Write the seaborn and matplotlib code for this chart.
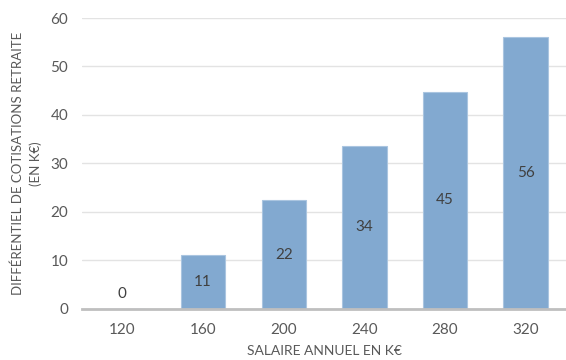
import matplotlib
matplotlib.use("Agg")
import matplotlib.pyplot as plt
import seaborn as sns
import pandas as pd

# Annual salary (k€) and the resulting pension contribution differential (k€)
salaires = ["120", "160", "200", "240", "280", "320"]
differentiel = [0, 11.2, 22.4, 33.6, 44.8, 56.0]
y_ticks = [0, 10, 20, 30, 40, 50, 60]

sns.set_theme(style="white")
plt.rcParams["font.family"] = ["Lato", "DejaVu Sans"]

text_color = "#595959"
bar_color = "#82a9d0"

df = pd.DataFrame({"salaire": salaires, "diff": differentiel})

fig = plt.figure(figsize=(5.66, 3.60), dpi=100)
ax = fig.add_axes([0.145, 0.142, 0.855, 0.808])

sns.barplot(data=df, x="salaire", y="diff", color=bar_color, saturation=1,
            width=0.55, edgecolor="#aac5e0", linewidth=0.8, ax=ax, zorder=3)

ax.set_ylim(0, 60)
ax.set_xlim(-0.5, 5.5)
ax.set_yticks(y_ticks)
ax.yaxis.grid(True, color="#e3e3e3", linewidth=1, zorder=0)
ax.xaxis.grid(False)

for side in ["top", "right", "left"]:
    ax.spines[side].set_visible(False)
ax.spines["bottom"].set_color("#bfbfbf")
ax.spines["bottom"].set_linewidth(2)
ax.spines["bottom"].set_zorder(4)

ax.tick_params(axis="both", length=0, labelsize=11, colors=text_color)
ax.tick_params(axis="x", pad=10)
ax.tick_params(axis="y", pad=10)

ax.set_xlabel("SALAIRE ANNUEL EN K€", fontsize=10, color=text_color, labelpad=6)
ax.set_ylabel("DIFFÉRENTIEL DE COTISATIONS RETRAITE\n(EN K€)", fontsize=9.5,
              color=text_color, labelpad=6, linespacing=1.5)

container = ax.containers[0]
center_labels = ["" if v == 0 else f"{v:.0f}" for v in differentiel]
edge_labels = [f"{v:.0f}" if v == 0 else "" for v in differentiel]
ax.bar_label(container, labels=center_labels, label_type="center",
             fontsize=11, color="#404040")
ax.bar_label(container, labels=edge_labels, label_type="edge", padding=6,
             fontsize=11, color="#404040")

fig.savefig("out.png", dpi=100)
